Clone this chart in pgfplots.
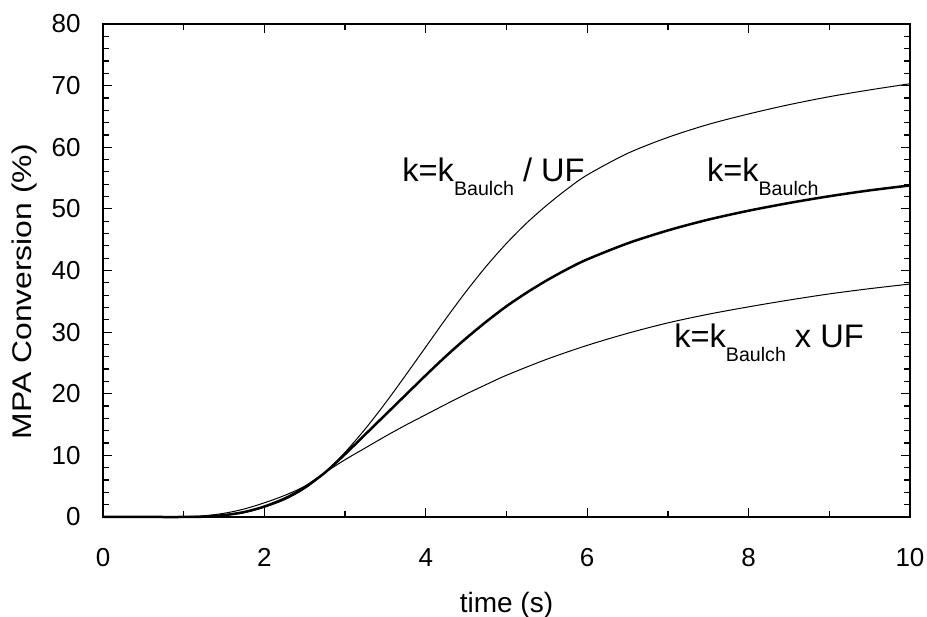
\documentclass[border=0pt]{standalone}
\usepackage{fontspec}
\setmainfont{Liberation Sans}
\usepackage{pgfplots}
\pgfplotsset{compat=1.18}
\begin{document}
\begin{tikzpicture}
\begin{axis}[
  scale only axis, width=403.5pt, height=246.5pt,
  xmin=0, xmax=10, ymin=0, ymax=80,
  xtick={0,2,...,10}, ytick={0,10,...,80},
  minor x tick num=1, minor y tick num=4,
  tick align=inside, major tick length=4.5pt, minor tick length=3pt,
  axis line style={line width=0.75pt},
  tick style={black, line width=0.6pt},
  /pgf/number format/assume math mode=true,
  tick label style={font=\fontsize{13}{15}\selectfont, inner sep=0pt},
  yticklabel style={anchor=east, xshift=-11pt},
  xticklabel style={anchor=north, yshift=-15.5pt},
  xlabel={time (s)}, ylabel={\scalebox{1.18}[1]{MPA Conversion (\%)}},
  every axis x label/.style={at={(axis description cs:0.5,-0.1785)}, anchor=center, font=\fontsize{14}{16}\selectfont},
  every axis y label/.style={at={(axis description cs:-0.0967,0.457)}, rotate=90, anchor=center, font=\fontsize{13.5}{16}\selectfont},
  clip=false,
]
% k = k_Baulch / UF
\addplot[black, line width=0.5pt, smooth, no markers] coordinates {
(0,0) (0.5,0) (1,0) (1.25,0.05) (1.5,0.25) (1.75,0.7) (2,1.6) (2.25,2.8) (2.5,4.6)
(2.75,7.2) (3,10.5) (3.25,14.3) (3.5,18.5) (3.75,23) (4,27.6) (4.25,32.2) (4.5,36.6)
(4.75,40.7) (5,44.4) (5.25,47.7) (5.5,50.6) (5.75,53.2) (6,55.5) (6.5,59) (7,61.6)
(7.5,63.7) (8,65.4) (8.5,66.9) (9,68.2) (9.5,69.3) (10,70.3)};
% k = k_Baulch
\addplot[black, line width=1.25pt, smooth, no markers] coordinates {
(0,0) (0.5,0) (1,0) (1.25,0.05) (1.5,0.3) (1.75,0.8) (2,1.7) (2.25,3) (2.5,4.8)
(2.75,7.2) (3,10.2) (3.25,13.4) (3.5,16.6) (3.75,19.8) (4,23) (4.25,26.1) (4.5,29)
(4.75,31.7) (5,34.2) (5.25,36.4) (5.5,38.4) (5.75,40.2) (6,41.8) (6.5,44.4) (7,46.5)
(7.5,48.25) (8,49.7) (8.5,50.95) (9,52.05) (9.5,53) (10,53.8)};
% k = k_Baulch x UF
\addplot[black, line width=0.5pt, smooth, no markers] coordinates {
(0,0) (0.5,0) (0.75,0) (1,0.05) (1.25,0.2) (1.5,0.6) (1.75,1.3) (2,2.3) (2.25,3.5)
(2.5,5) (2.75,7.2) (3,9.3) (3.25,11.2) (3.5,13.1) (3.75,14.9) (4,16.6) (4.25,18.3)
(4.5,19.95) (4.75,21.5) (5,23) (5.5,25.6) (6,27.85) (6.5,29.8) (7,31.5) (7.5,32.9)
(8,34.1) (8.5,35.2) (9,36.2) (9.5,37.05) (10,37.8)};
\node[anchor=base west, inner sep=0pt, font=\fontsize{16.3}{18}\selectfont] at (axis cs:3.705,54.4)
  {k=k\raisebox{-7pt}{\fontsize{9.8}{11}\selectfont Baulch} / UF};
\node[anchor=base west, inner sep=0pt, font=\fontsize{16.3}{18}\selectfont] at (axis cs:7.48,54.4)
  {k=k\raisebox{-7pt}{\fontsize{9.8}{11}\selectfont Baulch}};
\node[anchor=base west, inner sep=0pt, font=\fontsize{16.3}{18}\selectfont] at (axis cs:7.075,27.5)
  {k=k\raisebox{-7pt}{\fontsize{9.8}{11}\selectfont Baulch} x UF};
\end{axis}
\pgfresetboundingbox
\path ([xshift=-51.5pt, yshift=-50pt]current axis.south west) rectangle ([xshift=8.5pt, yshift=12pt]current axis.north east);
\end{tikzpicture}
\end{document}
